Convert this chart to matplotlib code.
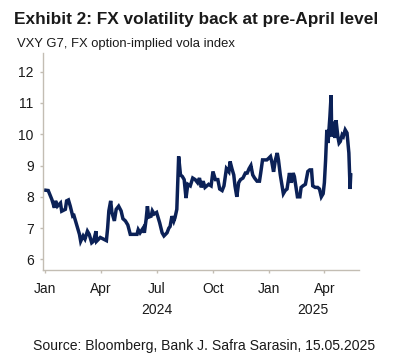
import matplotlib
matplotlib.use('Agg')
import matplotlib.pyplot as plt
import matplotlib.dates as mdates
import matplotlib.transforms as mtransforms
import numpy as np

# VXY G7 index
dates = [
    '2024-01-02', '2024-01-06', '2024-01-12', '2024-01-16', '2024-01-18', '2024-01-21',
    '2024-01-26', '2024-01-28', '2024-02-03', '2024-02-05', '2024-02-08', '2024-02-11',
    '2024-02-15', '2024-02-17', '2024-02-22', '2024-02-26', '2024-02-28', '2024-03-03',
    '2024-03-06', '2024-03-10', '2024-03-13', '2024-03-17', '2024-03-20', '2024-03-24',
    '2024-03-25', '2024-03-31', '2024-04-05', '2024-04-10', '2024-04-12', '2024-04-14',
    '2024-04-17', '2024-04-19', '2024-04-23', '2024-04-26', '2024-04-30', '2024-05-04',
    '2024-05-07', '2024-05-11', '2024-05-15', '2024-05-19', '2024-05-24', '2024-05-30',
    '2024-06-01', '2024-06-04', '2024-06-09', '2024-06-11', '2024-06-14', '2024-06-16',
    '2024-06-18', '2024-06-22', '2024-06-24', '2024-06-27', '2024-07-01', '2024-07-06',
    '2024-07-10', '2024-07-13', '2024-07-18', '2024-07-21', '2024-07-23', '2024-07-26',
    '2024-07-29', '2024-07-31', '2024-08-03', '2024-08-06', '2024-08-09', '2024-08-12',
    '2024-08-15', '2024-08-18', '2024-08-21', '2024-08-25', '2024-08-29', '2024-09-02',
    '2024-09-06', '2024-09-09', '2024-09-12', '2024-09-15', '2024-09-18', '2024-09-24',
    '2024-09-28', '2024-10-01', '2024-10-05', '2024-10-09', '2024-10-12', '2024-10-16',
    '2024-10-19', '2024-10-23', '2024-10-27', '2024-10-29', '2024-11-01', '2024-11-04',
    '2024-11-06', '2024-11-09', '2024-11-12', '2024-11-15', '2024-11-19', '2024-11-23',
    '2024-11-26', '2024-11-29', '2024-12-02', '2024-12-05', '2024-12-08', '2024-12-12',
    '2024-12-16', '2024-12-18', '2024-12-21', '2024-12-24', '2024-12-28', '2024-12-31',
    '2025-01-03', '2025-01-05', '2025-01-08', '2025-01-11', '2025-01-14', '2025-01-16',
    '2025-01-19', '2025-01-22', '2025-01-24', '2025-01-27', '2025-01-30', '2025-02-02',
    '2025-02-03', '2025-02-06', '2025-02-09', '2025-02-11', '2025-02-14', '2025-02-16',
    '2025-02-20', '2025-02-22', '2025-02-25', '2025-03-01', '2025-03-05', '2025-03-08',
    '2025-03-11', '2025-03-13', '2025-03-17', '2025-03-21', '2025-03-24', '2025-03-27',
    '2025-03-30', '2025-04-01', '2025-04-03', '2025-04-05', '2025-04-07', '2025-04-10',
    '2025-04-12', '2025-04-13', '2025-04-16', '2025-04-18', '2025-04-20', '2025-04-23',
    '2025-04-25', '2025-04-27', '2025-04-30', '2025-05-02', '2025-05-05', '2025-05-08',
    '2025-05-11', '2025-05-13', '2025-05-14',
]
vxy = [
    8.21, 8.20, 7.91, 7.65, 7.87, 7.70,
    7.80, 7.54, 7.60, 7.87, 7.90, 7.70,
    7.38, 7.40, 7.06, 6.80, 6.58, 6.75,
    6.65, 6.90, 6.80, 6.53, 6.58, 6.90,
    6.58, 6.70, 6.65, 6.60, 7.00, 7.55,
    7.87, 7.50, 7.23, 7.60, 7.70, 7.55,
    7.30, 7.23, 7.10, 6.80, 6.80, 6.80,
    6.95, 6.85, 7.00, 6.85, 7.30, 7.70,
    7.35, 7.38, 7.55, 7.45, 7.50, 7.17,
    6.85, 6.75, 6.85, 7.00, 7.05, 7.38,
    7.22, 7.33, 7.60, 9.29, 8.70, 8.65,
    8.55, 7.96, 8.40, 8.35, 8.60, 8.55,
    8.45, 8.60, 8.30, 8.50, 8.30, 8.40,
    8.35, 8.81, 8.55, 8.55, 8.25, 8.20,
    8.35, 8.90, 8.80, 9.13, 8.90, 8.70,
    8.35, 8.00, 8.45, 8.55, 8.60, 8.76,
    8.76, 8.90, 9.00, 8.70, 8.60, 8.50,
    8.50, 8.76, 9.18, 9.18, 9.18, 9.23,
    9.29, 9.13, 8.80, 9.18, 9.40, 9.18,
    8.70, 8.35, 8.10, 8.20, 8.25, 8.65,
    8.76, 8.45, 8.76, 8.65, 8.25, 8.00,
    8.00, 8.30, 8.35, 8.40, 8.81, 8.86,
    8.86, 8.35, 8.30, 8.30, 8.25, 8.00,
    8.10, 8.45, 9.18, 10.14, 9.72, 10.56,
    11.25, 9.93, 10.40, 9.88, 10.45, 9.93,
    9.72, 9.77, 9.98, 9.93, 10.14, 10.04,
    9.40, 8.25, 8.70,
]

month_ticks = ['2024-01-01', '2024-04-01', '2024-07-01', '2024-10-01', '2025-01-01', '2025-04-01']
year_labels = ['2024', '2025']
y_ticks = [6, 7, 8, 9, 10, 11, 12]

navy = '#0b2157'
spine_col = '#c3bdb3'
txt = '#1a1a1a'

plt.rcParams['font.family'] = ['Liberation Sans', 'DejaVu Sans']

fig = plt.figure(figsize=(3.93, 3.6), dpi=100)
ax = fig.add_axes([0.1087, 0.25, 0.9142 - 0.1087, 0.853 - 0.25])

x = np.array(dates, dtype='datetime64[D]')
ax.plot(x, vxy, color=navy, lw=2.5, solid_joinstyle='miter')

ax.set_xlim(np.datetime64('2023-12-28'), np.datetime64('2025-05-28'))
ax.set_ylim(5.66, 12.6)
ax.set_yticks(y_ticks)
ax.set_xticks(np.array(month_ticks, dtype='datetime64[D]'))
ax.xaxis.set_major_formatter(mdates.DateFormatter('%b'))

for side in ['top', 'right']:
    ax.spines[side].set_visible(False)
for side in ['left', 'bottom']:
    ax.spines[side].set_color(spine_col)
    ax.spines[side].set_linewidth(1.0)
ax.tick_params(axis='both', colors=spine_col, labelcolor=txt, labelsize=10,
               length=2.5, width=1.0, direction='out')
ax.tick_params(axis='x', pad=6)
ax.tick_params(axis='y', pad=4)

# year labels centred on each year's span of the axis
trans = mtransforms.blended_transform_factory(ax.transData, ax.transAxes)
year_mid = [mdates.date2num(np.datetime64('2024-07-01')),
            mdates.date2num(np.datetime64('2025-03-14'))]
for lbl, xm in zip(year_labels, year_mid):
    ax.text(xm, -0.185, lbl, transform=trans, ha='center', va='center',
            fontsize=10, color=txt)

fig.text(0.036, 0.945, 'Exhibit 2: FX volatility back at pre-April level',
         fontsize=12.4, fontweight='bold', color=txt, ha='left', va='center',
         family=['Liberation Sans Narrow', 'Liberation Sans'])
fig.text(0.043, 0.878, 'VXY G7, FX option-implied vola index',
         fontsize=9.4, color=txt, ha='left', va='center')
fig.text(0.52, 0.04, 'Source: Bloomberg, Bank J. Safra Sarasin, 15.05.2025',
         fontsize=10.1, color=txt, ha='center', va='center')

fig.savefig('out.png', dpi=100)
